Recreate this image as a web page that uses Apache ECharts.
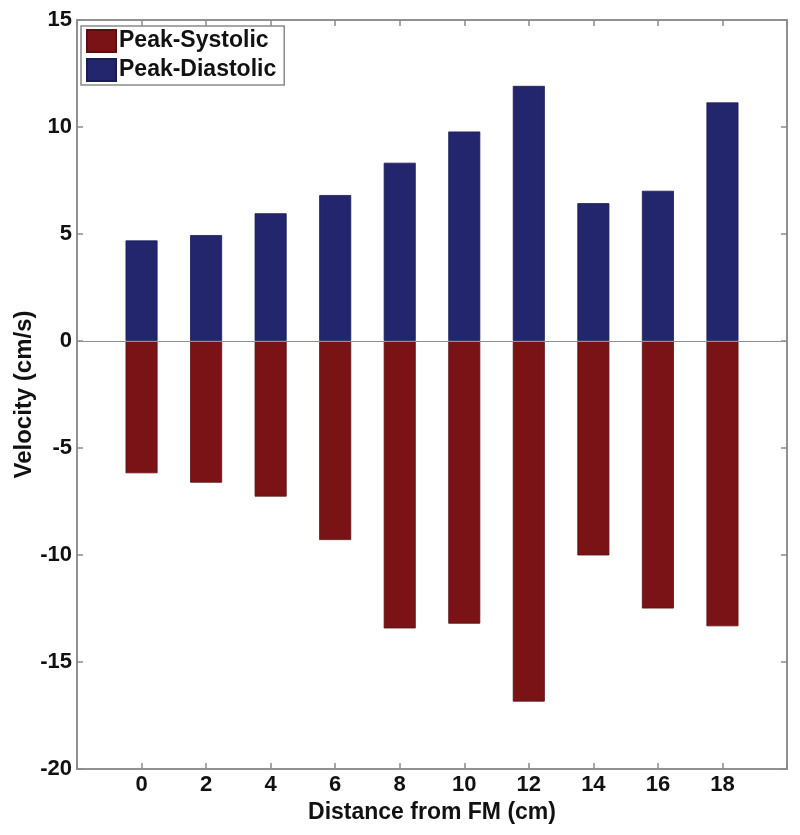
<!DOCTYPE html>
<html>
<head>
<meta charset="utf-8">
<script src="https://cdn.jsdelivr.net/npm/echarts@6/dist/echarts.min.js"></script>
<style>html,body{margin:0;padding:0;background:#fff}#c{width:800px;height:835px}</style>
</head>
<body>
<div id="c"></div>
<script>
const distances = [0, 2, 4, 6, 8, 10, 12, 14, 16, 18];
const peakSystolic = [-6.18, -6.62, -7.27, -9.30, -13.43, -13.21, -16.85, -10.02, -12.50, -13.33];
const peakDiastolic = [4.70, 4.95, 5.97, 6.82, 8.33, 9.79, 11.92, 6.44, 7.02, 11.15];
const seriesNames = ['Peak-Systolic', 'Peak-Diastolic'];
const xTickLabels = ['0', '2', '4', '6', '8', '10', '12', '14', '16', '18'];

const font = 'Liberation Sans, Arial, sans-serif';
const chart = echarts.init(document.getElementById('c'), null, {renderer: 'canvas'});
const pair = (vals) => distances.map((d, i) => [d, vals[i]]);
const axisGray = '#8a8a8a';

chart.setOption({
  animation: false,
  backgroundColor: '#fff',
  grid: {left: 77, right: 13, top: 20, bottom: 66, show: true, borderColor: axisGray, borderWidth: 1.5,
         containLabel: false, outerBoundsMode: 'none'},
  legend: {
    left: 81, top: 26,
    orient: 'vertical',
    backgroundColor: '#fff',
    borderColor: axisGray, borderWidth: 1.5,
    padding: [3, 8, 3, 5],
    itemGap: 5,
    itemWidth: 29, itemHeight: 22,
    icon: 'rect',
    data: seriesNames,
    textStyle: {fontFamily: font, fontWeight: 'bold', fontSize: 23, color: '#111', padding: [0, 0, 0, -2]}
  },
  xAxis: [{
    type: 'value', min: -2, max: 20, interval: 2,
    name: 'Distance from FM (cm)', nameLocation: 'middle', nameGap: 32, nameMoveOverlap: false,
    nameTextStyle: {fontFamily: font, fontWeight: 'bold', fontSize: 23, color: '#111'},
    axisLine: {show: true, onZero: false, lineStyle: {color: axisGray, width: 1.5}},
    axisTick: {show: true, inside: true, length: 6, lineStyle: {color: axisGray, width: 1.5}},
    splitLine: {show: false},
    axisLabel: {
      fontFamily: font, fontWeight: 'bold', fontSize: 22, color: '#111', margin: 5,
      formatter: (v) => { const s = String(v); return xTickLabels.indexOf(s) >= 0 ? s : ''; }
    }
  }, {
    type: 'value', min: -2, max: 20, interval: 2, position: 'top',
    axisLine: {show: true, onZero: false, lineStyle: {color: axisGray, width: 1.5}},
    axisTick: {show: true, inside: true, length: 6, lineStyle: {color: axisGray, width: 1.5}},
    axisLabel: {show: false}, splitLine: {show: false}
  }],
  yAxis: [{
    type: 'value', min: -20, max: 15, interval: 5,
    name: 'Velocity (cm/s)', nameLocation: 'middle', nameGap: 41, nameRotate: 90, nameMoveOverlap: false,
    nameTextStyle: {fontFamily: font, fontWeight: 'bold', fontSize: 24, color: '#111'},
    axisLine: {show: true, onZero: false, lineStyle: {color: axisGray, width: 1.5}},
    axisTick: {show: true, inside: true, length: 6, lineStyle: {color: axisGray, width: 1.5}},
    splitLine: {show: false},
    axisLabel: {fontFamily: font, fontWeight: 'bold', fontSize: 22, color: '#111', margin: 5}
  }, {
    type: 'value', min: -20, max: 15, interval: 5, position: 'right',
    axisLine: {show: true, onZero: false, lineStyle: {color: axisGray, width: 1.5}},
    axisTick: {show: true, inside: true, length: 6, lineStyle: {color: axisGray, width: 1.5}},
    axisLabel: {show: false}, splitLine: {show: false}
  }],
  series: [{
    name: seriesNames[0], type: 'bar', data: pair(peakSystolic),
    barWidth: 32, barGap: '-100%',
    itemStyle: {color: '#7a1316', borderColor: '#5a1012', borderWidth: 0.8},
    markLine: {
      silent: true, symbol: 'none', label: {show: false},
      lineStyle: {color: '#909090', width: 1.2, type: 'solid'},
      data: [{yAxis: 0}]
    },
    z: 2
  }, {
    name: seriesNames[1], type: 'bar', data: pair(peakDiastolic),
    barWidth: 32, barGap: '-100%',
    itemStyle: {color: '#23266c', borderColor: '#1a1c55', borderWidth: 0.8},
    z: 2
  }]
});
</script>
</body>
</html>
